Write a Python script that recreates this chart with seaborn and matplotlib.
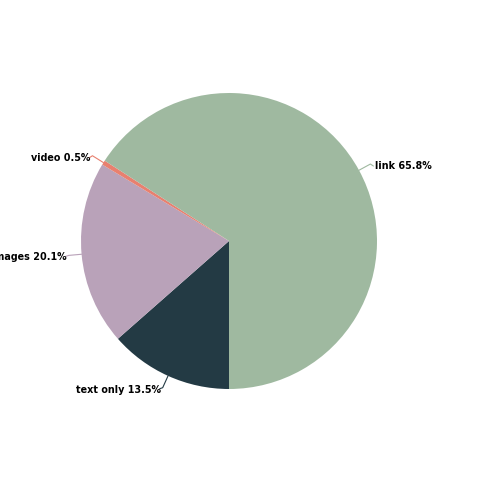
import numpy as np
import matplotlib
matplotlib.use("Agg")
import matplotlib.pyplot as plt
import seaborn as sns

labels = ["text only", "images", "video", "link"]
values = [13.5, 20.1, 0.5, 65.8]
colors = ["#233a44", "#b9a2b9", "#e8806f", "#9fb9a0"]

sns.set_theme(style="white")
plt.rcParams['font.family'] = ['DejaVu Sans']

fig = plt.figure(figsize=(5, 5), dpi=100)
ax = fig.add_axes([0, 0, 1, 1])
cx, cy, r = 229, 259, 148
wedges, _ = ax.pie(values, colors=colors, startangle=-90, counterclock=False,
                   center=(cx, cy), radius=r, frame=False,
                   wedgeprops=dict(linewidth=0))
ax.set_xlim(0, 500)
ax.set_ylim(0, 500)
ax.set_aspect('equal')
ax.axis('off')

for w, lab, val, col in zip(wedges, labels, values, colors):
    ang = np.deg2rad((w.theta1 + w.theta2) / 2)
    dx, dy = np.cos(ang), np.sin(ang)
    x0, y0 = cx + r * dx, cy + r * dy
    x1, y1 = cx + (r + 13) * dx, cy + (r + 13) * dy
    side = 1 if dx >= 0 else -1
    x2 = x1 + 3 * side
    ax.plot([x0, x1, x2], [y0, y1, y1 + (-2 if dy > 0 else -1)], color=col, lw=0.8,
            solid_capstyle='round')
    gap = 2 if side > 0 else -1
    ax.text(x2 + gap * side, y1 - 2, f"{lab} {val}%", ha='left' if side > 0 else 'right',
            va='center', fontsize=6.9, fontweight='bold', color='black')

fig.savefig("out.png", dpi=100, facecolor='white')
